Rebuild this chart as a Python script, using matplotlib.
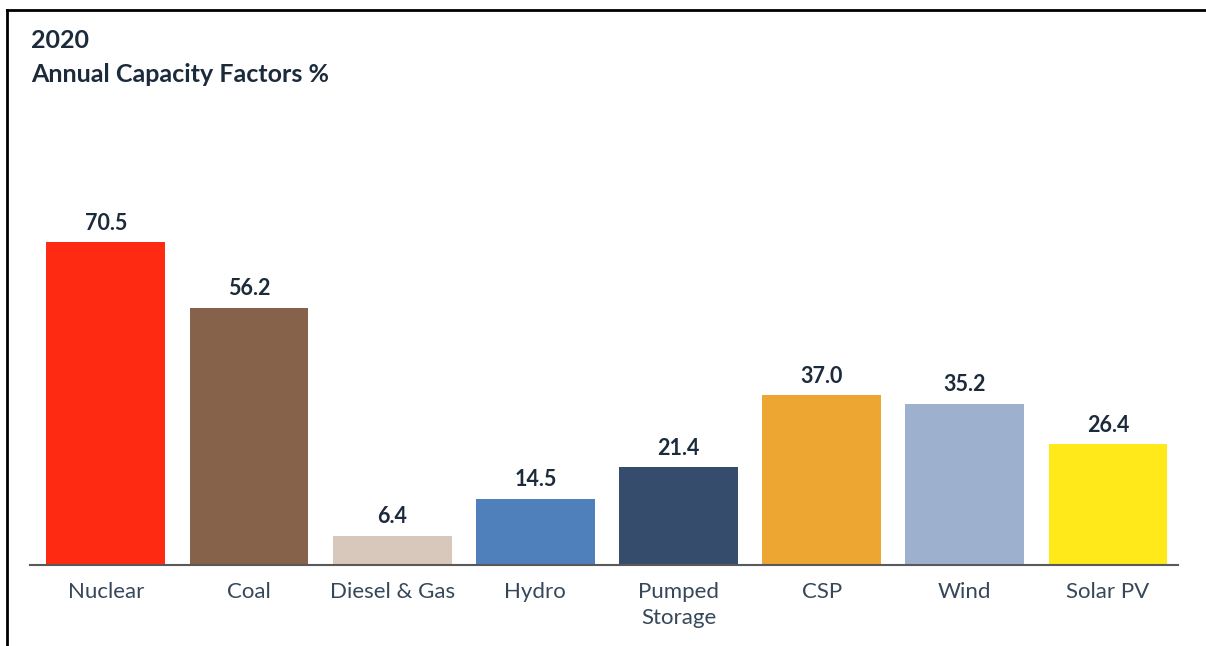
# Annual capacity factors by generation technology, 2020
import matplotlib
matplotlib.use('Agg')
import matplotlib.pyplot as plt
from matplotlib.lines import Line2D

categories = ['Nuclear', 'Coal', 'Diesel & Gas', 'Hydro', 'Pumped\nStorage', 'CSP', 'Wind', 'Solar PV']
values = [70.5, 56.2, 6.4, 14.5, 21.4, 37.0, 35.2, 26.4]
colors = ['#fe2b12', '#86624a', '#d7c8bb', '#4f80bb', '#354c6c', '#eca631', '#9db0cd', '#ffe91a']

plt.rcParams['font.family'] = ['Lato', 'DejaVu Sans']
navy = '#1c2b3c'

fig = plt.figure(figsize=(12.06, 6.46), dpi=100)
ax = fig.add_axes([0.0249, 0.1254, 0.952, 0.7198])

x = range(len(categories))
bars = ax.bar(x, values, width=0.83, color=colors)
for rect, v in zip(bars, values):
    ax.annotate('{:.1f}'.format(v), (rect.get_x() + rect.get_width() / 2, v),
                xytext=(0, 6), textcoords='offset points', ha='center', va='bottom',
                fontsize=15.5, fontweight='bold', color=navy)

ax.set_xlim(-0.53, 7.49)
ax.set_ylim(0, 101.5)
ax.set_xticks(list(x))
ax.set_xticklabels(categories, fontsize=16, color='#36475a', linespacing=1.4)
ax.tick_params(axis='x', length=0, pad=12)
ax.set_yticks([])
for s in ['top', 'right', 'left']:
    ax.spines[s].set_visible(False)
ax.spines['bottom'].set_color('#595959')
ax.spines['bottom'].set_linewidth(1.5)

fig.text(0.026, 0.938, '2020', fontsize=18, fontweight='bold', color=navy, va='center')
fig.text(0.026, 0.885, 'Annual Capacity Factors %', fontsize=18, fontweight='bold', color=navy, va='center')

# frame lines along top and left edge
fig.add_artist(Line2D([7 / 1206, 1], [1 - 10 / 646, 1 - 10 / 646], color='black', lw=2, transform=fig.transFigure))
fig.add_artist(Line2D([7 / 1206, 7 / 1206], [0, 1 - 10 / 646], color='black', lw=2, transform=fig.transFigure))

plt.savefig('out.png', dpi=100)
